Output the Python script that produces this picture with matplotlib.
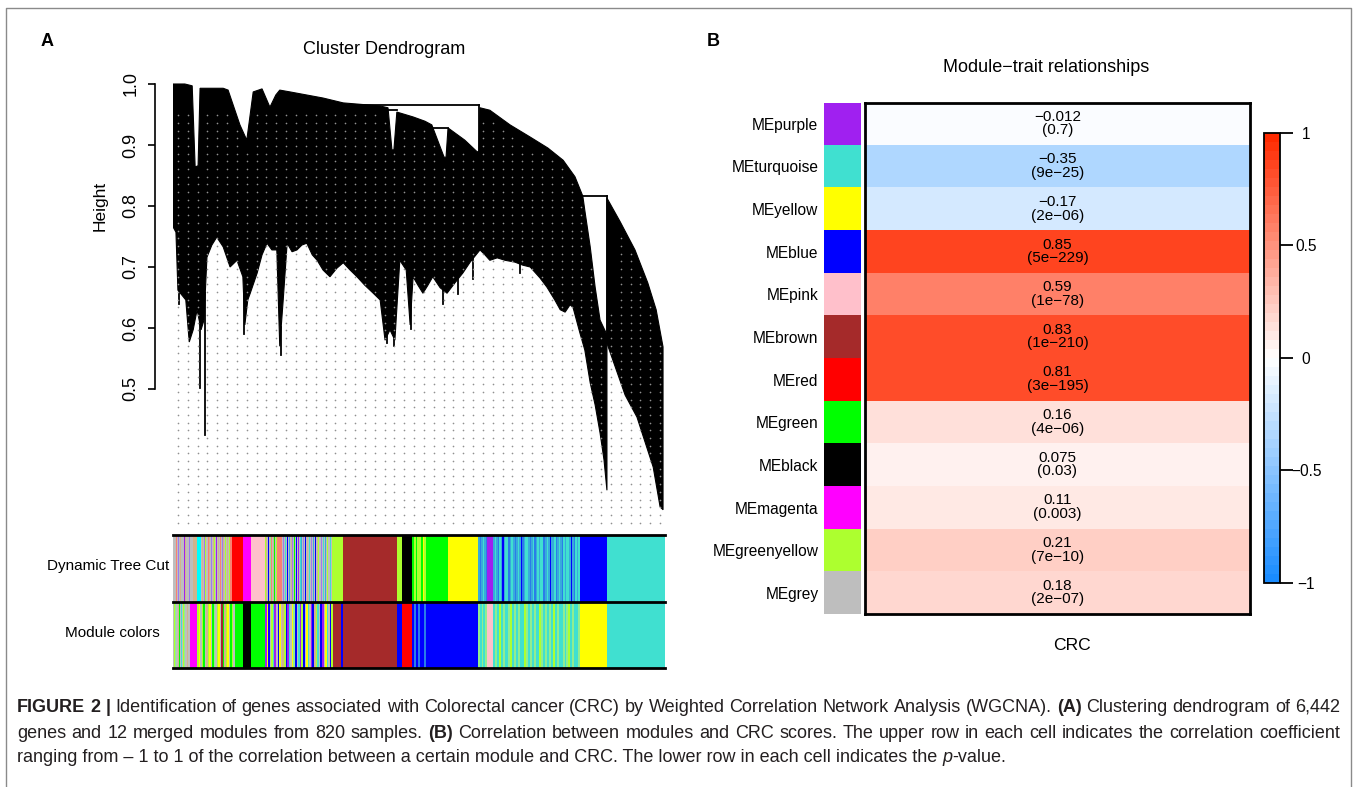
import numpy as np
import matplotlib
matplotlib.use('Agg')
import matplotlib.pyplot as plt
from matplotlib.colors import LinearSegmentedColormap, Normalize, to_rgb
from matplotlib.colorbar import ColorbarBase

plt.rcParams['font.family'] = ['Liberation Sans', 'DejaVu Sans']

W, H = 1355, 787

# ---------------- panel A: dendrogram outline (leaf order in %, height) ----------------
top_x = [0.0, 2.4, 3.9, 4.5, 5.1, 5.5, 10.2, 11.2, 13.6, 15.0, 16.3, 18.1, 19.7, 20.9, 21.7,
         23.8, 30.5, 34.6, 42.1, 43.7, 44.5, 44.9, 45.5, 48.8, 51.2, 52.6, 55.1, 55.5, 55.9,
         59.3, 61.8, 62.2, 62.4, 64.4, 68.5, 72.6, 76.2, 79.3, 81.7, 83.3, 83.7, 84.8, 85.8,
         86.8, 88.2, 88.2]
top_h = [1.000, 1.000, 0.997, 0.864, 0.866, 0.993, 0.993, 0.990, 0.933, 0.908, 0.987, 0.992,
         0.962, 0.982, 0.990, 0.987, 0.977, 0.969, 0.964, 0.961, 0.892, 0.892, 0.954, 0.946,
         0.939, 0.933, 0.880, 0.880, 0.928, 0.908, 0.889, 0.889, 0.961, 0.957, 0.933, 0.913,
         0.895, 0.875, 0.848, 0.816, 0.793, 0.733, 0.667, 0.613, 0.589, 0.334]
bot_x = [0.0, 0.6, 1.0, 1.8, 2.6, 3.3, 4.1, 4.9, 5.7, 6.3, 6.9, 7.9, 8.9, 10.2, 11.6,
         13.0, 14.2, 14.6, 15.2, 15.7, 17.1, 18.1, 19.1, 20.1, 21.1, 21.7, 22.4, 23.2, 24.2, 25.2,
         26.2, 27.2, 28.3, 29.3, 30.5, 31.9, 33.3, 34.6, 36.0, 37.4, 39.0, 40.7, 42.1, 43.1, 44.1,
         45.1, 46.1, 47.4, 48.2, 48.8, 49.8, 50.8, 51.8, 52.8, 54.3, 55.7, 57.3, 58.9, 60.4, 62.4,
         63.4, 64.4, 65.9, 67.5, 69.5, 71.1, 72.6, 74.6, 76.0, 77.6, 78.7, 79.7, 80.7, 81.3, 82.7,
         83.7, 84.8, 85.8, 86.8, 87.6]
bot_h = [0.766, 0.757, 0.662, 0.654, 0.646, 0.577, 0.597, 0.630, 0.597, 0.613, 0.716, 0.736,
         0.749, 0.733, 0.700, 0.711, 0.684, 0.605, 0.646, 0.657, 0.690, 0.720, 0.739, 0.728,
         0.728, 0.570, 0.646, 0.739, 0.725, 0.728, 0.736, 0.739, 0.720, 0.711, 0.695, 0.684,
         0.698, 0.707, 0.695, 0.684, 0.670, 0.657, 0.646, 0.580, 0.597, 0.580, 0.711, 0.695,
         0.605, 0.684, 0.670, 0.657, 0.670, 0.684, 0.666, 0.657, 0.674, 0.690, 0.708, 0.728,
         0.720, 0.711, 0.715, 0.711, 0.708, 0.703, 0.700, 0.682, 0.667, 0.646, 0.630, 0.626,
         0.638, 0.634, 0.592, 0.564, 0.510, 0.474, 0.428, 0.384]
right_x = [88.2, 90.9, 93.9, 96.5, 98.2, 99.6, 99.6, 99.0, 97.6, 94.3, 91.9, 88.2]
right_h = [0.813, 0.774, 0.728, 0.674, 0.630, 0.569, 0.302, 0.307, 0.372, 0.454, 0.490, 0.575]
# merge brackets (x0, x1, height) and verticals (x, h0, h1)
merge_h = [(34.6, 62.2, 0.966), (42.1, 45.5, 0.957), (48.8, 55.9, 0.928), (83.3, 88.2, 0.816)]
merge_v = [(62.2, 0.966, 0.889), (88.2, 0.816, 0.575)]
# single leaves hanging below the mass (x, lowest height)
spikes = [(1.2, 0.640), (5.5, 0.502), (6.5, 0.425), (14.4, 0.590), (21.9, 0.555),
          (43.5, 0.575), (45.0, 0.570), (48.4, 0.598), (54.8, 0.640), (58.0, 0.655),
          (61.0, 0.680), (70.5, 0.690)]

# ---------------- panel A: colour rows (pattern, width in px of leaf order) ----------------
wgcna = {'g': '#BEBEBE', 't': '#D2B48C', 's': '#FA8072', 'p': '#A020F0', 'm': '#9F79EE',
         'y': '#ADFF2F', 'c': '#00FFFF', 'r': '#FF0000', 'M': '#FF00FF', 'k': '#FFC0CB',
         'n': '#A52A2A', 'K': '#000000', 'G': '#00FF00', 'Y': '#FFFF00', 'B': '#0000FF',
         'T': '#40E0D0', 'l': '#90EE90', 'o': '#2A7DE8', 'd': '#38AADC'}
dynamic_cut = [("gggsgmgtgggptgggmgggtttt", 24), ("c", 4),
               ("gtgmyggstgmgtygpgtgsgmtgygtgyss", 31), ("r", 11), ("M", 8), ("k", 14),
               ("ytgBglsgtGgy", 12), ("s", 5),
               ("gmgTgBgdgtmgGgBgpgTdgmgBgtgTgmgdgBgtyggmgTgdgyggTgy", 51),
               ("y", 10), ("n", 54), ("y", 5), ("K", 10), ("GyGyyGYyG", 16), ("G", 20), ("Y", 30),
               ("dodTdoppppdTdoTdBdTTodTdodTdBodTTdodTodTdTTodTdBddTodTdoTdTTdBdoTdT", 102),
               ("B", 27), ("T", 58)]
module_cols = [("gylgtGgTgylgtgg", 17), ("M", 7), ("yYgyGgtyYgGlgyYgnGtyYgGyg", 38),
               ("G", 8), ("K", 8), ("G", 14),
               ("pYBgyTpgBYgtyBpTgYlBgTpyBgYTgpBtyTgBpgYTgBy", 68),
               ("n", 8), ("B", 2), ("n", 54), ("B", 5), ("r", 10), ("BoBoBBoB", 16), ("B", 50),
               ("lTlTl", 9), ("k", 6),
               ("TlTyTlTTlyTlTlTTylTlTlTTylTlTlTyTlTTlTlyTlTTl", 87), ("Y", 27), ("T", 58)]

# ---------------- panel B data ----------------
modules = ['MEpurple', 'MEturquoise', 'MEyellow', 'MEblue', 'MEpink', 'MEbrown', 'MEred',
           'MEgreen', 'MEblack', 'MEmagenta', 'MEgreenyellow', 'MEgrey']
module_colors = ['#A020F0', '#40E0D0', '#FFFF00', '#0000FF', '#FFC0CB', '#A52A2A', '#FF0000',
                 '#00FF00', '#000000', '#FF00FF', '#ADFF2F', '#BEBEBE']
cor = [-0.012, -0.35, -0.17, 0.85, 0.59, 0.83, 0.81, 0.16, 0.075, 0.11, 0.21, 0.18]
pval = ['0.7', '9e-25', '2e-06', '5e-229', '1e-78', '1e-210', '3e-195', '4e-06', '0.03',
        '0.003', '7e-10', '2e-07']
cb_ticks = [-1, -0.5, 0, 0.5, 1]


def rect(x0, y0, x1, y1):
    return [x0 / W, 1 - y1 / H, (x1 - x0) / W, (y1 - y0) / H]


def minus(s):
    return str(s).replace('-', '\u2212')


fig = plt.figure(figsize=(W / 100, H / 100), dpi=100)

# frame
frame = fig.add_axes([0, 0, 1, 1], zorder=-5)
frame.set_xlim(0, W)
frame.set_ylim(H, 0)
frame.axis('off')
frame.plot([6, 6, 1351, 1351], [H, 8, 8, H], color='#8a8a8a', lw=1.0)

# ---------------- dendrogram ----------------
ax_d = fig.add_axes(rect(173, 80, 665, 530))
h_low = 1 - (530 - 84) / 610
h_high = 1 + 4 / 610
ax_d.set_xlim(0, 100)
ax_d.set_ylim(h_low, h_high)

poly_x = top_x + bot_x[::-1]
poly_h = top_h + bot_h[::-1]
ax_d.fill(poly_x, poly_h, color='black', lw=0.8, ec='black')
ax_d.fill(right_x, right_h, color='black', lw=0.8, ec='black')
for x0, x1, hh in merge_h:
    ax_d.plot([x0, x1], [hh, hh], color='black', lw=1.3)
for xx, h0, h1 in merge_v:
    ax_d.plot([xx, xx], [h0, h1], color='black', lw=1.3)
for xx, hb in spikes:
    ax_d.plot([xx, xx], [hb, np.interp(xx, bot_x, bot_h) + 0.01], color='black', lw=1.3)

# dotted hang pattern below the tree
env_x = np.array(top_x[:45] + right_x[1:6])
env_h = np.array(top_h[:45] + right_h[1:6])
gx, gy = np.meshgrid(np.arange(1.0, 99.7, 2.0), np.arange(0.281, 0.956, 0.0126))
lim = np.minimum(0.955, np.interp(gx, env_x, env_h) - 0.015)
mask = gy < lim
ax_d.plot(gx[mask], gy[mask], ls='', marker='o', ms=1.2, mew=0, color='#909090', zorder=5)

for sp in ['top', 'right', 'bottom']:
    ax_d.spines[sp].set_visible(False)
ax_d.spines['left'].set_position(('outward', 13))
ax_d.spines['left'].set_bounds(0.5, 1.0)
ax_d.spines['left'].set_linewidth(1.2)
ax_d.set_xticks([])
ax_d.set_yticks([0.5, 0.6, 0.7, 0.8, 0.9, 1.0])
ax_d.set_yticklabels(['0.5', '0.6', '0.7', '0.8', '0.9', '1.0'])
ax_d.tick_params(axis='y', length=5, width=1.2, pad=6, labelsize=13)
for lab in ax_d.get_yticklabels():
    lab.set_rotation(90)
    lab.set_va('center')
    lab.set_ha('right')
fig.text(100 / W, 1 - 206 / H, 'Height', rotation=90, ha='center', va='center', fontsize=12.5)
fig.text(384 / W, 1 - 50 / H, 'Cluster Dendrogram', ha='center', va='center', fontsize=13)
fig.text(47 / W, 1 - 42 / H, 'A', ha='center', va='center', fontsize=13, fontweight='bold')

# ---------------- colour rows ----------------
ax_c = fig.add_axes(rect(173, 535, 665, 668))
total = sum(w for _, w in dynamic_cut)
for row, segs in [(1, dynamic_cut), (0, module_cols)]:
    x = 0.0
    spans, cols = [], []
    for pattern, w in segs:
        sw = w / len(pattern)
        for ch in pattern:
            spans.append((x, sw + 0.05))
            cols.append(wgcna[ch])
            x += sw
    ax_c.broken_barh(spans, (row, 1), facecolors=cols, lw=0, antialiased=False)
ax_c.set_xlim(0, total)
ax_c.set_ylim(0, 2)
for yy in [0, 1, 2]:
    ax_c.axhline(yy, color='black', lw=2.0, clip_on=False)
ax_c.axis('off')
fig.text(108 / W, 1 - 566 / H, 'Dynamic Tree Cut', ha='center', va='center', fontsize=11)
fig.text(112 / W, 1 - 633 / H, 'Module colors', ha='center', va='center', fontsize=11)

# ---------------- panel B heatmap ----------------
cmap = LinearSegmentedColormap.from_list('bwr50', ['#1A8CFF', '#FFFFFF', '#FF2A00'], N=50)
ax_s = fig.add_axes(rect(824, 102.5, 861, 614.3))
ax_s.imshow(np.array([to_rgb(c) for c in module_colors])[:, None, :], aspect='auto',
            interpolation='nearest')
ax_s.set_xticks([])
ax_s.set_yticks(range(len(modules)))
ax_s.set_yticklabels(modules, fontsize=11.2)
ax_s.tick_params(axis='y', length=0, pad=4)
for sp in ax_s.spines.values():
    sp.set_visible(False)

ax_h = fig.add_axes(rect(865, 102.5, 1250, 614.3))
ax_h.imshow(np.array(cor)[:, None], cmap=cmap, vmin=-1, vmax=1, aspect='auto',
            interpolation='nearest')
for i, (c, p) in enumerate(zip(cor, pval)):
    ax_h.text(0, i - 0.17, minus(c), ha='center', va='center', fontsize=11)
    ax_h.text(0, i + 0.15, '(' + minus(p) + ')', ha='center', va='center', fontsize=11)
ax_h.set_xticks([])
ax_h.set_yticks([])
for sp in ax_h.spines.values():
    sp.set_linewidth(2.0)

fig.text(1046 / W, 1 - 68 / H, 'Module\u2212trait relationships', ha='center', va='center',
         fontsize=13)
fig.text(1072 / W, 1 - 646 / H, 'CRC', ha='center', va='center', fontsize=12.6)
fig.text(713 / W, 1 - 42 / H, 'B', ha='center', va='center', fontsize=13, fontweight='bold')

cax = fig.add_axes(rect(1264, 132.7, 1280, 582.7))
cb = ColorbarBase(cax, cmap=cmap, norm=Normalize(-1, 1), orientation='vertical')
cb.set_ticks(cb_ticks)
cb.set_ticklabels([minus(t) for t in ['-1', '-0.5', '0', '0.5', '1']])
cb.outline.set_linewidth(1.3)
cax.tick_params(length=9.4, width=1.3, pad=9.4, labelsize=11.2)
for lab in cax.get_yticklabels():
    lab.set_ha('center')

# ---------------- caption (lines 1 and 2 justified) ----------------
cap_font = ['Liberation Sans Narrow', 'Liberation Sans']
cap_size = 13
caption = [
    (707, True, [("FIGURE 2 |", 'bold', 'normal', True),
                 ("Identification of genes associated with Colorectal cancer (CRC) by Weighted "
                  "Correlation Network Analysis (WGCNA).", 'normal', 'normal', True),
                 ("(A)", 'bold', 'normal', True),
                 ("Clustering dendrogram of 6,442", 'normal', 'normal', False)]),
    (733, True, [("genes and 12 merged modules from 820 samples.", 'normal', 'normal', True),
                 ("(B)", 'bold', 'normal', True),
                 ("Correlation between modules and CRC scores. The upper row in each cell "
                  "indicates the correlation coefficient", 'normal', 'normal', False)]),
    (758, False, [("ranging from \u2013 1 to 1 of the correlation between a certain module and "
                   "CRC. The lower row in each cell indicates the", 'normal', 'normal', True),
                  ("p", 'normal', 'italic', False),
                  ("-value.", 'normal', 'normal', False)]),
]
renderer = fig.canvas.get_renderer()


def advance(s, weight, style):
    # advance width of s, robust to side bearings
    a = fig.text(0, 0, 'I' + s + 'I', fontsize=cap_size, family=cap_font,
                 fontweight=weight, fontstyle=style)
    b = fig.text(0, 0, 'II', fontsize=cap_size, family=cap_font,
                 fontweight=weight, fontstyle=style)
    w = a.get_window_extent(renderer).width - b.get_window_extent(renderer).width
    a.remove()
    b.remove()
    return w


space_w = advance(' ', 'normal', 'normal')
cap_left, cap_right = 17, 1340
for y_px, justify, parts in caption:
    if justify:
        words = []
        for text, weight, style, gap in parts:
            toks = text.split(' ')
            for j, tok in enumerate(toks):
                words.append((tok, weight, style, gap if j == len(toks) - 1 else True))
    else:
        words = parts
    widths = [advance(t, wt, st) for t, wt, st, _ in words]
    n_gaps = sum(1 for w in words[:-1] if w[3])
    natural = sum(widths) + n_gaps * space_w
    gap_w = space_w
    if justify and n_gaps:
        gap_w = space_w + (cap_right - cap_left - natural) / n_gaps
    x_px = cap_left
    for (tok, weight, style, gap), w in zip(words, widths):
        fig.text(x_px / W, 1 - y_px / H, tok, fontsize=cap_size, family=cap_font,
                 fontweight=weight, fontstyle=style, ha='left', va='center',
                 color='#231F20')
        x_px += w + (gap_w if gap else 0)

fig.savefig('out.png', dpi=100)
